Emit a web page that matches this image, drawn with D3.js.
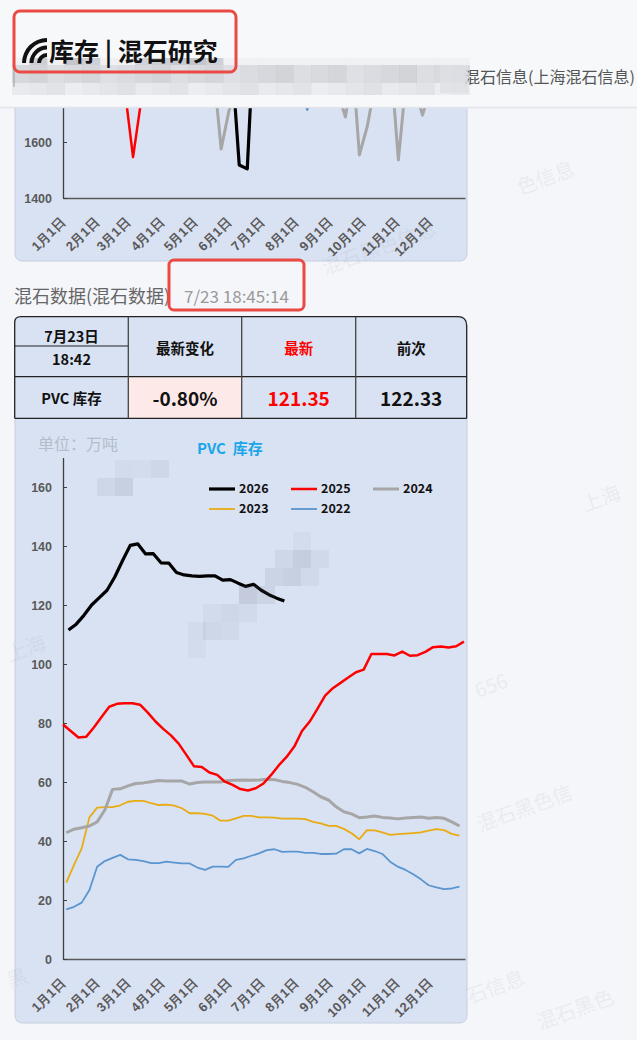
<!DOCTYPE html>
<html>
<head>
<meta charset="utf-8">
<script src="https://cdn.jsdelivr.net/npm/d3@7"></script>
<style>
  html, body { margin: 0; padding: 0; background: #f5f6fa; }
  svg { display: block; font-family: "Noto Sans CJK SC", "Noto Sans", sans-serif; }
</style>
</head>
<body>
<div id="app"></div>
<script>
// ---- data ----
const monthDays = [0, 31, 59, 90, 120, 151, 181, 212, 243, 273, 304, 334]
const monthLabels = ["1月1日", "2月1日", "3月1日", "4月1日", "5月1日", "6月1日",
  "7月1日", "8月1日", "9月1日", "10月1日", "11月1日", "12月1日"]
const yTicks = [0, 20, 40, 60, 80, 100, 120, 140, 160]
const topYTicks = [1400, 1600]

const seriesNames = ["2026", "2025", "2024", "2023", "2022"]
const seriesStartDay = [5, 0, 3, 3, 3]
const seriesColors = ["#000000", "#ff0000", "#a6a6a6", "#e8ac12", "#5b95cf"]
const seriesWidths = [3.2, 2.5, 3, 1.8, 1.8]

const v2026 = [111.5, 113.5, 116.5, 120, 122.5, 125, 129.5, 135, 140.2, 140.7, 137.3, 137.4, 134.3, 134.2,
  131, 130.2, 129.9, 129.7, 129.9, 129.9, 128.4, 128.6, 127.4, 126.3, 127, 125, 123.5, 122.33, 121.35]
const v2025 = [79.5, 77.3, 75.1, 75.3, 78.5, 82, 85.5, 86.5, 86.7, 86.7, 86.2, 83.5, 80.5, 78, 75.8, 73,
  69.2, 65.3, 65.1, 63.2, 62.4, 60.1, 59, 57.6, 57.1, 57.9, 59.5, 62.4, 65.7, 68.5, 72, 77.3, 80.5, 84.8,
  89.3, 91.8, 93.6, 95.4, 97.2, 98.1, 103.4, 103.4, 103.4, 102.9, 104.2, 102.8, 103, 104.1, 105.7, 105.9,
  105.6, 106, 107.6]
const v2024 = [42.8, 44, 44.5, 45.1, 46.5, 50.5, 57.5, 57.7, 58.7, 59.5, 59.7, 60.1, 60.5, 60.3, 60.3,
  60.3, 59.3, 59.8, 60, 60, 60, 60.5, 60.6, 60.7, 60.6, 60.7, 60.9, 60.8, 60.2, 59.8, 59.2, 58.2, 56.7, 55,
  53.9, 51.6, 49.9, 49.2, 47.9, 48.1, 48.5, 48, 47.8, 47.5, 47.8, 48, 48.1, 47.7, 48, 47.7, 46.5, 45.1]
const v2023 = [25.9, 31.9, 37.5, 48, 51.3, 51.5, 51.5, 52.1, 53.3, 53.6, 53.6, 52.8, 52.2, 52.3, 52, 51.1,
  49.4, 49.4, 49.2, 48.6, 46.9, 46.9, 47.7, 48.5, 48.5, 48, 48, 47.9, 47.6, 47.6, 47.6, 47.4, 46.5, 46,
  45.1, 45.1, 44.1, 42.6, 40.6, 43.7, 43.6, 42.9, 42.1, 42.3, 42.5, 42.7, 42.9, 43.5, 44, 43.7, 42.4, 41.8]
const v2022 = [16.8, 17.7, 19.1, 23.4, 31.3, 33.2, 34.3, 35.3, 33.8, 33.6, 33.2, 32.5, 32.5, 33, 32.7,
  32.4, 32.4, 31, 30.2, 31.3, 31.3, 31.2, 33.6, 34.1, 35, 35.8, 36.9, 37.2, 36.3, 36.4, 36.4, 36, 36, 35.6,
  35.6, 35.7, 37.2, 37.2, 35.8, 37.3, 36.6, 35.6, 33, 31.3, 30.2, 28.7, 27, 25, 24.3, 23.7, 23.9, 24.5]
const seriesValues = [v2026, v2025, v2024, v2023, v2022]

// previous chart (only its bottom part is visible), [day, value]
const topBlack = [[153, 1910], [160, 1518], [167.3, 1504], [174.3, 2064]]
const topRed = [[56.6, 1771], [63.6, 1546], [70.6, 1738]]
const topBlue = [[214.8, 1780], [221.8, 1714], [228.8, 1780]]
const topGray = [[136.6, 1860], [143.6, 1575], [150.6, 1710], [157.6, 1800], [249.4, 1780], [256.4, 1689],
  [263.4, 1860], [269.1, 1554], [276.1, 1653], [283.1, 1800], [297.5, 1893], [304.5, 1536], [311.5, 1821],
  [319.1, 1800], [326.4, 1696], [333.4, 1790]]

// table
const tableDate = "7月23日"
const tableTime = "18:42"
const tableHeaders = ["最新变化", "最新", "前次"]
const tableRowLabel = "PVC 库存"
const tableValues = ["-0.80%", "121.35", "122.33"]

const W = 637, H = 1040
const svg = d3.select("#app").append("svg").attr("width", W).attr("height", H)

const x = d3.scaleLinear().domain([0, 365]).range([63, 465])
const y = d3.scaleLinear().domain([0, 170]).range([959, 457.5])
const yTop = d3.scaleLinear().domain([1400, 1800]).range([198, 86])

// faint watermarks
const watermarks = [["混石黑色信息", 325, 275], ["色信息", 520, 195], ["上海", 585, 512], ["656", 478, 698],
  ["混石黑色信", 480, 832], ["石信息", 470, 1004], ["上海", 10, 662], ["黑", 10, 988], ["混石黑色", 540, 1030]]
const wmLayer = svg.append("g")

function styleXAxis(g) {
  g.select(".domain").attr("stroke", "#595959").attr("stroke-width", 1.5)
  g.selectAll(".tick line").remove()
  g.selectAll(".tick text")
    .attr("x", 0).attr("y", 0).attr("dy", "0.35em")
    .attr("text-anchor", "end")
    .attr("transform", "translate(-1,22) rotate(-45)")
    .attr("fill", "#595959")
    .style("font-size", "13px").style("font-weight", "bold")
}
function styleYAxis(g) {
  g.select(".domain").attr("stroke", "#404040").attr("stroke-width", 1.3)
  g.selectAll(".tick line").attr("stroke", "#404040")
  g.selectAll(".tick text").attr("fill", "#595959")
    .style("font-size", "12.5px").style("font-weight", "bold")
}
const xAxis = d3.axisBottom(x).tickValues(monthDays)
  .tickFormat((d, i) => monthLabels[i]).tickSizeOuter(0)

// ---- previous chart card (partly hidden by header) ----
svg.append("rect").attr("x", 15).attr("y", 40).attr("width", 452).attr("height", 221)
  .attr("rx", 7).attr("fill", "#d9e2f3").attr("stroke", "#c6cfdf")

svg.append("g").attr("transform", "translate(0,198)").call(xAxis).call(styleXAxis)
svg.append("g").attr("transform", "translate(63,0)")
  .call(d3.axisLeft(yTop).tickValues(topYTicks).tickFormat(d3.format("d"))
    .tickSizeInner(-4).tickSizeOuter(0).tickPadding(11))
  .call(styleYAxis)

const topLine = d3.line().x(d => x(d[0])).y(d => yTop(d[1]))
const topSeries = [[topGray, 2], [topBlue, 4], [topRed, 1], [topBlack, 0]]
topSeries.forEach(([pts, idx]) => {
  svg.append("path").datum(pts).attr("d", topLine)
    .attr("fill", "none").attr("stroke", seriesColors[idx])
    .attr("stroke-width", seriesWidths[idx]).attr("stroke-linejoin", "round")
})

// ---- header ----
svg.append("rect").attr("x", 0).attr("y", 0).attr("width", W).attr("height", 107).attr("fill", "#f7f8fa")
svg.append("line").attr("x1", 0).attr("x2", W).attr("y1", 107.5).attr("y2", 107.5)
  .attr("stroke", "#e2e4e9").attr("stroke-width", 1.5)

// blurred strip under title
const strip = svg.append("g")
const stripRows = [[58, 7, 0.32], [65, 18, 0.2], [83, 12, 0.09]]
stripRows.forEach(([ry, rh, base], r) => {
  for (let c = 0; c < 26; c++) {
    const sx = 12 + c * 17.6
    let a = base + ((c * 37 + r * 11) % 7) * 0.018
    if (r === 0 && (sx < 20 || (sx > 42 && sx < 58) || (sx > 96 && sx < 128) || sx > 222)) a = 0.06
    strip.append("rect").attr("x", sx).attr("y", ry).attr("width", 17.8).attr("height", rh)
      .attr("fill", "#80838f").attr("opacity", a)
  }
})
svg.append("line").attr("x1", 14).attr("x2", 14).attr("y1", 68).attr("y2", 87)
  .attr("stroke", "#9a9ca3").attr("stroke-width", 1)

// logo arcs
const logo = svg.append("g").attr("transform", "translate(47,63)")
const arc = d3.arc().startAngle(-Math.PI / 2).endAngle(0)
;[[6, 10], [13.5, 17.5], [21, 25]].forEach(([r0, r1]) => {
  logo.append("path").attr("d", arc({ innerRadius: r0, outerRadius: r1 })).attr("fill", "#111")
})
svg.append("text").attr("x", 49).attr("y", 61).text("库存 | 混石研究")
  .attr("fill", "#111").style("font-size", "25px").style("font-weight", "bold")

svg.append("text").attr("x", 464).attr("y", 83).text("混石信息(上海混石信息)")
  .attr("fill", "#555").style("font-size", "16px")
svg.append("rect").attr("x", 440).attr("y", 65).attr("width", 28).attr("height", 28)
  .attr("fill", "#dfe0e5").attr("opacity", 0.8)

svg.append("rect").attr("x", 14).attr("y", 11).attr("width", 222).attr("height", 61).attr("rx", 6)
  .attr("fill", "none").attr("stroke", "#ea4a43").attr("stroke-width", 3)

// ---- section title ----
svg.append("text").attr("x", 14).attr("y", 303).text("混石数据(混石数据)")
  .attr("fill", "#666").style("font-size", "18px")
svg.append("text").attr("x", 184).attr("y", 303).text("7/23 18:45:14")
  .attr("fill", "#9a9a9a").style("font-size", "17px")
svg.append("rect").attr("x", 169).attr("y", 260).attr("width", 135).attr("height", 50).attr("rx", 5)
  .attr("fill", "none").attr("stroke", "#ea4a43").attr("stroke-width", 3)

// ---- chart card ----
svg.append("path")
  .attr("d", "M15,418 H467 V1015 Q467,1023 459,1023 H23 Q15,1023 15,1015 Z")
  .attr("fill", "#d9e2f3").attr("stroke", "#c6cfdf")

// ---- table ----
const colX = [14.7, 128.3, 241.7, 355.7, 466.7]
const rowY = [316.7, 376.7, 418.3]
const table = svg.append("g")
const outline = `M${colX[0]},${rowY[2]} V${rowY[0] + 6} Q${colX[0]},${rowY[0]} ${colX[0] + 6},${rowY[0]} H${colX[4] - 9} Q${colX[4]},${rowY[0]} ${colX[4]},${rowY[0] + 9} V${rowY[2]}`
table.append("path").attr("d", outline + " Z").attr("fill", "#d9e2f3")
table.append("rect").attr("x", colX[1]).attr("y", rowY[1]).attr("width", colX[2] - colX[1])
  .attr("height", rowY[2] - rowY[1]).attr("fill", "#fdeae8")
table.append("path").attr("d", outline)
  .attr("fill", "none").attr("stroke", "#222").attr("stroke-width", 1.3)
table.selectAll("line.h").data([rowY[1], rowY[2]]).join("line")
  .attr("x1", colX[0]).attr("x2", colX[4]).attr("y1", d => d).attr("y2", d => d)
  .attr("stroke", "#222").attr("stroke-width", 1.3)
table.selectAll("line.v").data(colX.slice(1, 4)).join("line")
  .attr("x1", d => d).attr("x2", d => d).attr("y1", rowY[0]).attr("y2", rowY[2])
  .attr("stroke", "#444").attr("stroke-width", 1.3)
table.append("line").attr("x1", colX[0]).attr("x2", colX[1]).attr("y1", 346).attr("y2", 346)
  .attr("stroke", "#222").attr("stroke-width", 1.2)

const midX = i => (colX[i] + colX[i + 1]) / 2
table.append("text").attr("x", midX(0)).attr("y", 335).text(tableDate)
table.append("text").attr("x", midX(0)).attr("y", 358).text(tableTime)
tableHeaders.forEach((t, i) => {
  table.append("text").attr("x", midX(i + 1)).attr("y", 347).text(t)
    .attr("fill", i === 1 ? "#ff0000" : "#111")
})
table.append("text").attr("x", midX(0)).attr("y", 397).text(tableRowLabel)
tableValues.forEach((t, i) => {
  table.append("text").attr("x", midX(i + 1)).attr("y", 397).text(t)
    .attr("fill", i === 1 ? "#ff0000" : "#111").style("font-size", "19px")
})
table.selectAll("text").attr("text-anchor", "middle").attr("dominant-baseline", "central")
  .style("font-weight", "bold").each(function () {
    if (!this.style.fontSize) this.style.fontSize = "14.5px"
    if (!this.getAttribute("fill")) this.setAttribute("fill", "#111")
  })

// ---- main chart ----
svg.append("text").attr("x", 38).attr("y", 450).text("单位：万吨")
  .attr("fill", "#b5bcca").style("font-size", "16px")
svg.append("text").attr("x", 197).attr("y", 454).text("PVC  库存")
  .attr("fill", "#1ca6ea").style("font-size", "15px").style("font-weight", "bold")
  .style("white-space", "pre")

svg.append("g").attr("transform", "translate(0,959)").call(xAxis).call(styleXAxis)
svg.append("g").attr("transform", "translate(63,0)")
  .call(d3.axisLeft(y).tickValues(yTicks).tickSizeInner(-4).tickSizeOuter(0).tickPadding(11))
  .call(styleYAxis)

const line = d3.line()
  .x((d, i) => x(d.start + i * 7))
  .y(d => y(d.v))
for (let s = seriesNames.length - 1; s >= 0; s--) {
  const pts = seriesValues[s].map(v => ({ v, start: seriesStartDay[s] }))
  svg.append("path").datum(pts).attr("d", line)
    .attr("fill", "none").attr("stroke", seriesColors[s])
    .attr("stroke-width", seriesWidths[s]).attr("stroke-linejoin", "round")
}

// legend
const legend = svg.append("g")
seriesNames.forEach((name, i) => {
  const lx = 209 + (i % 3) * 82
  const ly = 489 + Math.floor(i / 3) * 20
  legend.append("line").attr("x1", lx).attr("x2", lx + 26).attr("y1", ly).attr("y2", ly)
    .attr("stroke", seriesColors[i]).attr("stroke-width", seriesWidths[i])
  legend.append("text").attr("x", lx + 30).attr("y", ly).attr("dy", "0.35em").text(name)
    .attr("fill", "#111").style("font-size", "12.5px").style("font-weight", "bold")
})

// mosaic patches over the chart
const mosaicCells = [[97, 478, 0.1], [115, 478, 0.16], [115, 460, 0.06], [133, 460, 0.05], [151, 460, 0.1],
  [275, 550, 0.1], [293, 550, 0.18], [311, 550, 0.08], [265, 568, 0.12], [283, 568, 0.16], [301, 568, 0.08],
  [239, 586, 0.2], [257, 586, 0.12], [221, 604, 0.1], [239, 604, 0.07], [203, 604, 0.06], [203, 622, 0.1],
  [221, 622, 0.08], [188, 622, 0.06], [188, 640, 0.05], [293, 532, 0.05]]
svg.append("g").selectAll("rect").data(mosaicCells).join("rect")
  .attr("x", d => d[0]).attr("y", d => d[1]).attr("width", 18).attr("height", 18)
  .attr("fill", "#6c7183").attr("opacity", d => d[2])

wmLayer.raise()
wmLayer.selectAll("text").data(watermarks).join("text")
  .attr("transform", d => `translate(${d[1]},${d[2]}) rotate(-20)`).text(d => d[0])
  .attr("fill", "#7d8190").attr("opacity", 0.09).style("font-size", "20px")
</script>
</body>
</html>
